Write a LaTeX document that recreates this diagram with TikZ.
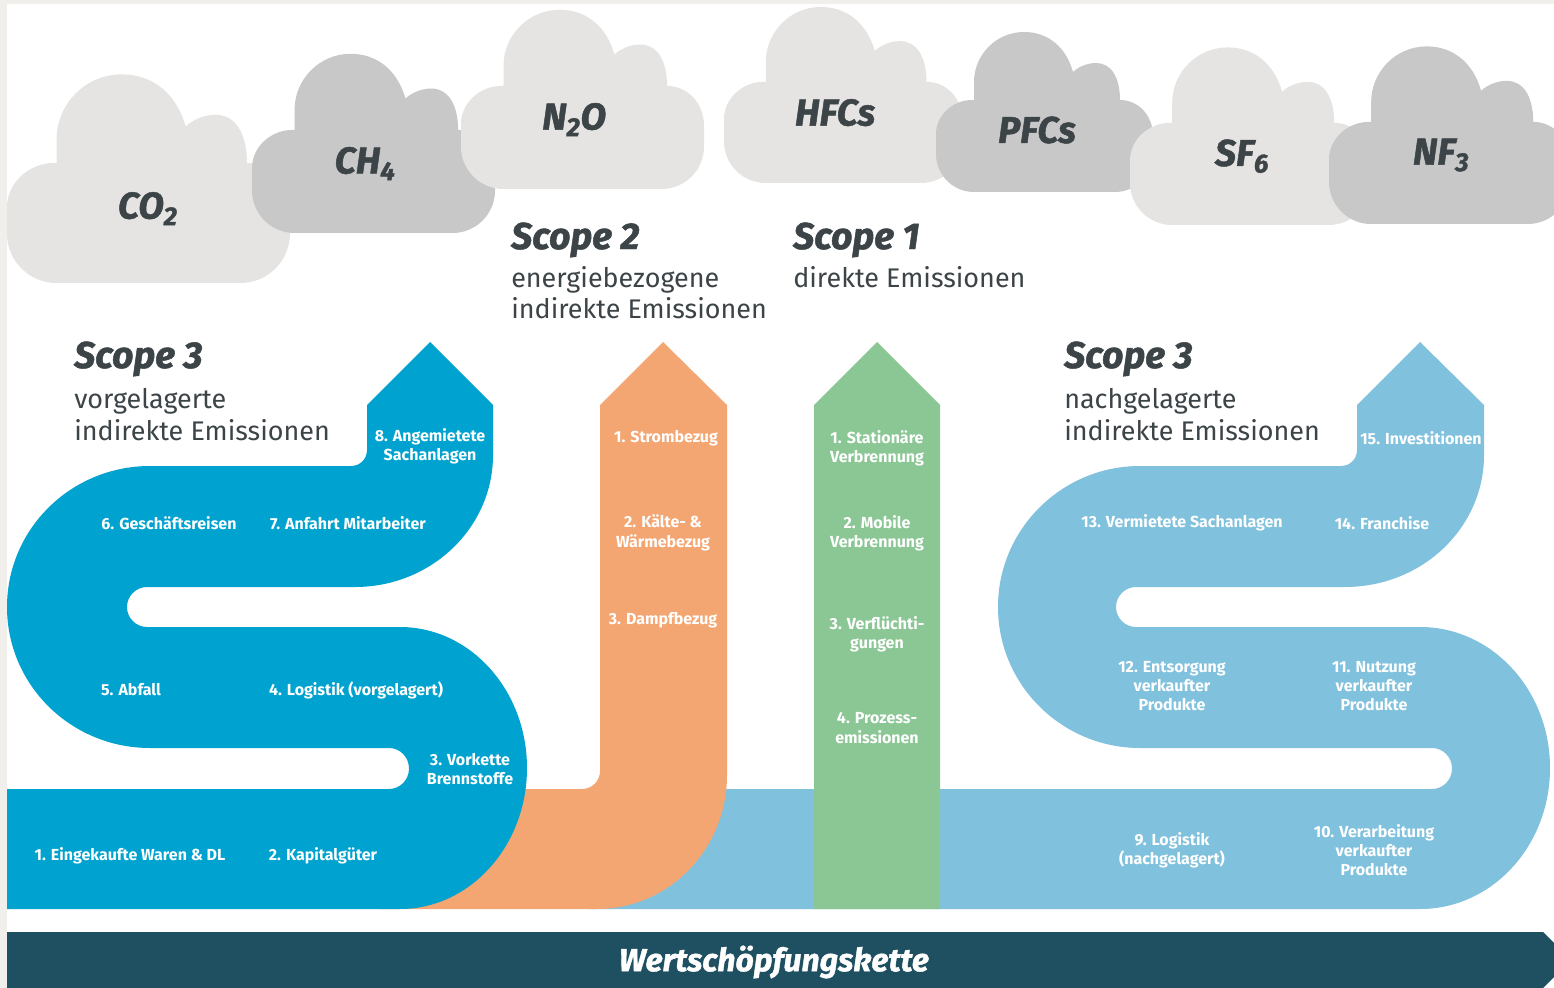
\documentclass[tikz,border=0pt]{standalone}
\usepackage{fontspec}
\setmainfont{Fira Sans}[BoldItalicFeatures={FakeBold=1.3}]

\definecolor{scopeblue}{RGB}{0,163,207}
\definecolor{scopelight}{RGB}{128,193,221}
\definecolor{scopeorange}{RGB}{243,166,114}
\definecolor{scopegreen}{RGB}{139,198,149}
\definecolor{chainteal}{RGB}{30,80,98}
\definecolor{inkgrey}{RGB}{60,68,72}
\definecolor{cloudpale}{RGB}{229,228,226}
\definecolor{clouddark}{RGB}{200,200,200}
\definecolor{framegrey}{RGB}{240,239,235}

% outline of one cloud, origin at the bottom left of its base
\newcommand{\cloudoutline}{(38,0) -- (179,0) .. controls (200,0) and (217,-17) .. (217,-38) -- (217,-56) .. controls (217,-77) and (202,-92) .. (184,-92) .. controls (184,-115) and (175,-129) .. (160,-129) .. controls (150,-129) and (141,-124) .. (137,-120) .. controls (130,-145) and (112,-160) .. (88,-160) .. controls (60,-160) and (38,-137) .. (38,-110) -- (38,-92) -- (36,-92) .. controls (17,-92) and (0,-77) .. (0,-58) -- (0,-38) .. controls (0,-17) and (17,0) .. (38,0) -- cycle}

\newcommand{\gascloud}[7]{%
  \begin{scope}[shift={(#2,#3)},scale=#4]
    \fill[#5] \cloudoutline;
    \draw #7 node (#1) [gas] {#6};
  \end{scope}}

\begin{document}
\begin{tikzpicture}[x=0.75pt,y=0.75pt,yscale=-1,xscale=1,
  item/.style={text=white,font=\bfseries\fontsize{12}{14.5}\selectfont,align=center,inner sep=0.75pt},
  gas/.style={text=inkgrey,font=\bfseries\itshape\fontsize{28}{30}\selectfont,inner sep=0.75pt},
  scopehead/.style={anchor=base west,text=inkgrey,font=\bfseries\itshape\fontsize{28}{30}\selectfont,inner sep=0pt},
  scopesub/.style={anchor=base west,text=inkgrey,font=\fontsize{20.2}{24}\selectfont,inner sep=0pt}]
\useasboundingbox (0,0) rectangle (1554,988);
\fill[white] (0,0) rectangle (1554,988);
\fill[framegrey] (0,0) rectangle (7,988);
\fill[framegrey] (0,0) rectangle (1554,4);

% Clouds
\gascloud{co2}{7}{283}{1.304}{cloudpale}{CO\textsubscript{2}}{(108,-57)}
\gascloud{ch4}{252}{233}{1.12}{clouddark}{CH\textsubscript{4}}{(101,-62)}
\gascloud{n2o}{461}{189}{1.12}{cloudpale}{N\textsubscript{2}O}{(101,-62)}
\gascloud{hfcs}{724}{183}{1.1}{cloudpale}{HFCs}{(101,-64)}
\gascloud{pfcs}{936}{192}{1}{clouddark}{PFCs}{(101,-62)}
\gascloud{sf6}{1130}{225}{1.11}{cloudpale}{SF\textsubscript{6}}{(101,-62)}
\gascloud{nf3}{1329}{224}{1.11}{clouddark}{NF\textsubscript{3}}{(101,-62)}

% Shape: Scope 3 downstream band
\fill[scopelight] (1420,342) -- (1484,405) -- (1484,455) .. controls (1484,528) and (1422,587) .. (1345,587) -- (1136,587) .. controls (1125,587) and (1116,596) .. (1116,607) .. controls (1116,618) and (1125,627) .. (1136,627) -- (1420,627) .. controls (1492,627) and (1550,690) .. (1550,768) .. controls (1550,846) and (1492,909) .. (1420,909) -- (590,909) -- (590,789) -- (1432,789) .. controls (1443,789) and (1452,780) .. (1452,768.5) .. controls (1452,757) and (1443,748) .. (1432,748) -- (1140,748) .. controls (1062,748) and (998,685) .. (998,607) .. controls (998,529) and (1062,466) .. (1140,466) -- (1341,466) .. controls (1350,466) and (1357,459) .. (1357,450) -- (1357,405) -- cycle;
% Shape: Scope 1 arrow
\fill[scopegreen] (877,342) -- (940,405) -- (940,909) -- (814,909) -- (814,405) -- cycle;
% Shape: Scope 2 arrow
\fill[scopeorange] (663,342) -- (727,405) -- (727,775) .. controls (727,849) and (669,909) .. (597,909) -- (380,909) -- (380,789) -- (582,789) .. controls (592,789) and (600,781) .. (600,771) -- (600,405) -- cycle;
% Shape: Scope 3 upstream band
\fill[scopeblue] (430,342) -- (493,405) -- (493,455) .. controls (493,528) and (431,587) .. (355,587) -- (147,587) .. controls (136,587) and (127,596) .. (127,607) .. controls (127,618) and (136,627) .. (147,627) -- (400,627) .. controls (470,627) and (527,690) .. (527,768) .. controls (527,846) and (470,909) .. (400,909) -- (7,909) -- (7,789) -- (389,789) .. controls (400,789) and (409,780) .. (409,768.5) .. controls (409,757) and (400,748) .. (389,748) -- (150,748) .. controls (71,748) and (7,685) .. (7,607) .. controls (7,529) and (71,466) .. (150,466) -- (351,466) .. controls (360,466) and (367,459) .. (367,450) -- (367,405) -- cycle;
% Shape: value chain bar
\fill[chainteal] (7,932) -- (1543,932) -- (1571,960) -- (1543,988) -- (7,988) -- cycle;

% Text Node
\draw (74,368) node (s3up) [scopehead] {Scope 3};
\draw (74,408) node (s3upa) [scopesub] {vorgelagerte};
\draw (74,440) node (s3upb) [scopesub] {indirekte Emissionen};
\draw (511,249) node (s2) [scopehead] {Scope 2};
\draw (511,287) node (s2a) [scopesub] {energiebezogene};
\draw (511,319) node (s2b) [scopesub] {indirekte Emissionen};
\draw (793,249) node (s1) [scopehead] {Scope 1};
\draw (793,287) node (s1a) [scopesub] {direkte Emissionen};
\draw (1064,368) node (s3down) [scopehead] {Scope 3};
\draw (1064,408) node (s3downa) [scopesub] {nachgelagerte};
\draw (1064,440) node (s3downb) [scopesub] {indirekte Emissionen};

% Text Node
\draw (130,856) node (up1) [item] {1. Eingekaufte Waren \& DL};
\draw (323,856) node (up2) [item] {2. Kapitalgüter};
\draw (470,769) node (up3) [item] {3. Vorkette\\Brennstoffe};
\draw (356,690) node (up4) [item] {4. Logistik (vorgelagert)};
\draw (131,690) node (up5) [item] {5. Abfall};
\draw (169,523) node (up6) [item] {6. Geschäftsreisen};
\draw (348,523) node (up7) [item] {7. Anfahrt Mitarbeiter};
\draw (430,446) node (up8) [item] {8. Angemietete\\Sachanlagen};
% Text Node
\draw (666,438) node (en1) [item] {1. Strombezug};
\draw (663,533) node (en2) [item] {2. Kälte- \&\\Wärmebezug};
\draw (663,620) node (en3) [item] {3. Dampfbezug};
% Text Node
\draw (877,448) node (di1) [item] {1. Stationäre\\Verbrennung};
\draw (877,533) node (di2) [item] {2. Mobile\\Verbrennung};
\draw (877,634) node (di3) [item] {3. Verflüchti-\\gungen};
\draw (877,728) node (di4) [item] {4. Prozess-\\emissionen};
% Text Node
\draw (1172,850) node (dn9) [item] {9. Logistik\\(nachgelagert)};
\draw (1374,850) node (dn10) [item] {10. Verarbeitung\\verkaufter\\Produkte};
\draw (1374,686) node (dn11) [item] {11. Nutzung\\verkaufter\\Produkte};
\draw (1172,686) node (dn12) [item] {12. Entsorgung\\verkaufter\\Produkte};
\draw (1182,523) node (dn13) [item] {13. Vermietete Sachanlagen};
\draw (1382,523) node (dn14) [item] {14. Franchise};
\draw (1421,438) node (dn15) [item] {15. Investitionen};
% Text Node
\draw (774,962) node (chain) [text=white,font=\bfseries\itshape\fontsize{24}{26}\selectfont,inner sep=0.75pt] {Wertschöpfungskette};

\end{tikzpicture}
\end{document}
